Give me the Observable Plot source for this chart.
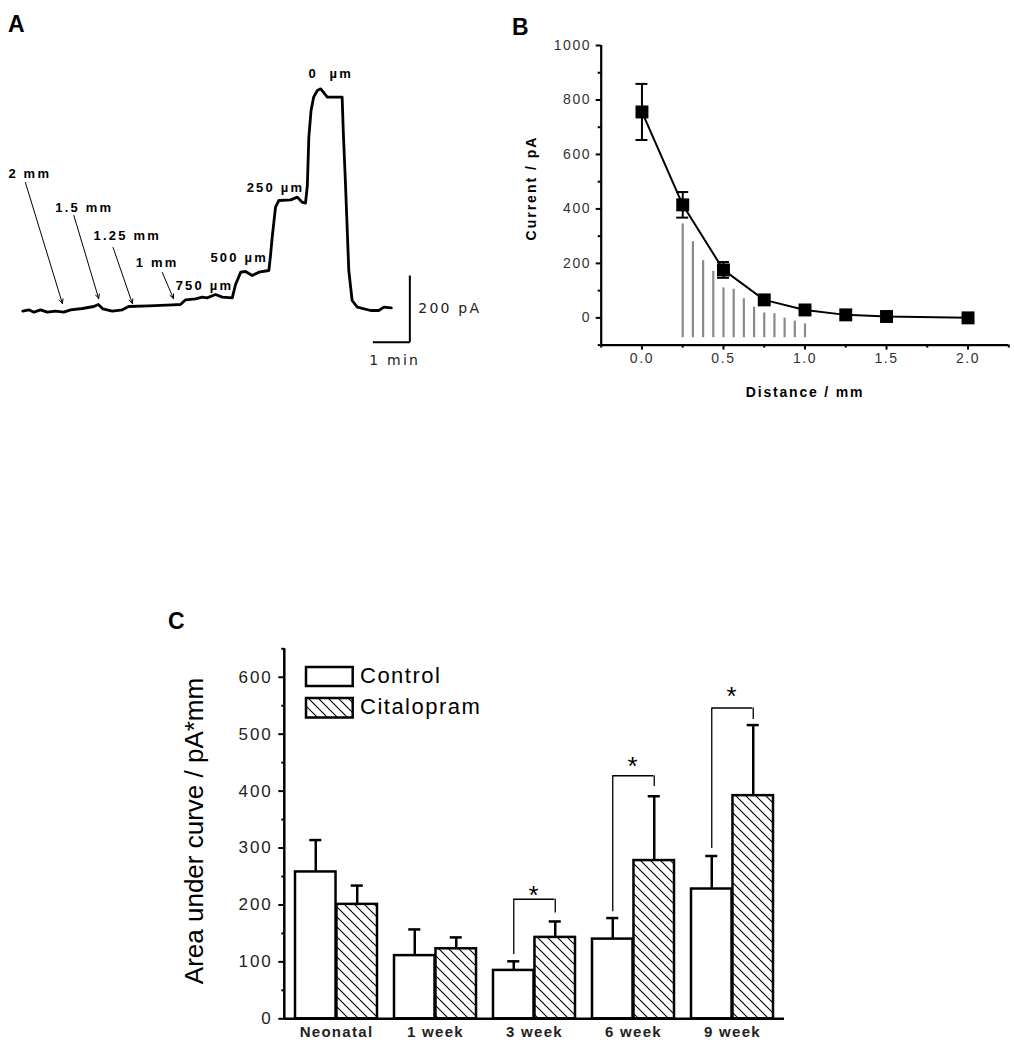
<!DOCTYPE html>
<html><head><meta charset="utf-8">
<script src="https://cdn.jsdelivr.net/npm/d3@7"></script>
<script src="https://cdn.jsdelivr.net/npm/@observablehq/plot@0.6"></script>
<style>
body{margin:0;background:#fff;}
#page{position:relative;width:1014px;height:1050px;overflow:hidden;font-family:Arial,"Liberation Sans",sans-serif;background:#fff;}
.panel{position:absolute;}
</style></head><body><div id="page"></div>
<script>
// ---------------- Panel A: amperometric trace ----------------
const traceTime = [0,0.16,0.30,0.48,0.66,0.88,1.11,1.29,1.61,1.92,2.04,2.16,2.42,2.69,2.86,3.41,4.04,4.26,4.40,4.67,4.85,4.98,5.21,5.39,5.66,5.75,5.89,6.02,6.20,6.38,6.65,6.69,6.74,6.83,6.92,7.24,7.42,7.55,7.64,7.69,7.73,7.79,7.86,7.96,8.05,8.23,8.63,8.66,8.72,8.81,8.90,9.04,9.40,9.62,9.76,9.96];
const traceCurrent = [0,4,-3,4,-3,0,-3,4,8,14,20,7,0,4,14,16,19,20,34,37,42,40,50,42,40,80,117,119,107,117,122,162,222,312,332,334,342,327,324,377,522,602,642,662,667,642,642,542,383,122,32,12,2,2,12,10];
const distLabels = ["2 mm","1.5 mm","1.25 mm","1 mm","750 µm","500 µm","250 µm","0  µm"];
const distLabelTime = [-0.39,0.88,1.91,3.05,4.13,5.07,6.05,7.72];
const distLabelCurrent = [413,311,227,146,77,161,371,713];
const arrowFromTime = [0.07,1.38,2.44,3.77];
const arrowFromCurrent = [386,287,191,116];
const arrowToTime = [1.07,2.05,2.96,4.07];
const arrowToCurrent = [23,38,23,38];
const scaleBarTime = 10.46, scaleBarCurrent = -93, scaleTimeLen = 1, scaleCurrentLen = 200;
const scaleLabels = ["200 pA","1 min"];

// ---------------- Panel B: current vs distance ----------------
const distances = [0,0.25,0.5,0.75,1.0,1.25,1.5,2.0];
const currents = [756,415,176,66,29,11,5,0];
const currentErr = [103,47,29,0,0,0,0,0];
const shadeDist = [0.25,0.3125,0.375,0.4375,0.5,0.5625,0.625,0.6875,0.75,0.8125,0.875,0.9375,1.0];
const shadeCurrent = [345,280,210,171,110,105,70,39,18,15,-1,-12,-22];
const shadeBase = -73;
const xMajorB = [0,0.5,1.0,1.5,2.0];
const xMinorB = [-0.25,0.25,0.75,1.25,1.75,2.25];
const yMajorB = [0,200,400,600,800,1000];
const yMinorB = [-100,100,300,500,700,900];

// ---------------- Panel C: area under curve ----------------
const groupsC = ["Neonatal","1 week","3 week","6 week","9 week"];
const controlMean = [258,111,85,140,228];
const controlErr = [56,46,16,37,58];
const citalopramMean = [201,123,143,278,392];
const citalopramErr = [33,20,28,113,124];
const sigGroups = ["3 week","6 week","9 week"];
const sigTop = [210,427,546];
const sigLeftFoot = [113,188,299];
const sigRightFoot = [186,408,526];
const sigStar = [229,455,578];
const yMajorC = [0,100,200,300,400,500,600];
const yMinorC = [50,150,250,350,450,550,650];
const seriesNames = ["Control","Citalopram"];

const page = document.getElementById("page");
function place(el, left, top){ el.classList.add("panel"); el.style.left = left+"px"; el.style.top = top+"px"; page.appendChild(el); }

// ---- A ----
const trace = traceTime.map((t,i)=>({t, I: traceCurrent[i]}));
const labelsA = distLabels.map((label,i)=>({label, t: distLabelTime[i], I: distLabelCurrent[i]}));
const arrowsA = arrowFromTime.map((t,i)=>({x1:t, y1:arrowFromCurrent[i], x2:arrowToTime[i], y2:arrowToCurrent[i]}));
const scaleBars = [
  {x1: scaleBarTime, y1: scaleBarCurrent, x2: scaleBarTime, y2: scaleBarCurrent + scaleCurrentLen},
  {x1: scaleBarTime - scaleTimeLen, y1: scaleBarCurrent, x2: scaleBarTime, y2: scaleBarCurrent}
];
const plotA = Plot.plot({
  width: 500, height: 380, margin: 0,
  x: {domain: [-0.603, 12.91], axis: null},
  y: {domain: [-208, 932], axis: null},
  style: {background: "transparent", fontFamily: "Arial, 'Liberation Sans', sans-serif", letterSpacing: "2.2px", overflow: "visible"},
  marks: [
    Plot.line(trace, {x: "t", y: "I", stroke: "#000", strokeWidth: 2.8, strokeLinejoin: "round"}),
    Plot.arrow(arrowsA, {x1: "x1", y1: "y1", x2: "x2", y2: "y2", stroke: "#000", strokeWidth: 1, headLength: 7, headAngle: 50}),
    Plot.text(labelsA, {x: "t", y: "I", text: "label", textAnchor: "start", lineAnchor: "middle", fontWeight: "bold", fontSize: 13, fill: "#000"}),
    Plot.link(scaleBars, {x1: "x1", y1: "y1", x2: "x2", y2: "y2", stroke: "#000", strokeWidth: 2}),
    Plot.text([scaleLabels[0]], {x: () => scaleBarTime + 0.23, y: () => scaleBarCurrent + scaleCurrentLen/2, text: d => d, textAnchor: "start", lineAnchor: "middle", fontSize: 14, fontFamily: "'DejaVu Sans', sans-serif", fill: "#222"}),
    Plot.text([scaleLabels[1]], {x: () => scaleBarTime - scaleTimeLen/2 + 0.09, y: () => scaleBarCurrent - 55, text: d => d, textAnchor: "middle", lineAnchor: "middle", fontSize: 14, fontFamily: "'DejaVu Sans', sans-serif", fill: "#222"})
  ]
});
place(plotA, 0, 0);

// ---- B ----
const ptsB = distances.map((d,i)=>({d, v: currents[i], e: currentErr[i]}));
const errB = ptsB.filter(p => p.e > 0);
const shadeRows = shadeDist.map((d,i)=>({d, v: shadeCurrent[i]}));
const plotB = Plot.plot({
  width: 514, height: 410, marginLeft: 100.7, marginRight: 5.7, marginTop: 45, marginBottom: 65.4,
  x: {domain: [-0.25, 2.25], label: null},
  y: {domain: [-100, 1000], label: null},
  style: {background: "transparent", fontFamily: "Arial, 'Liberation Sans', sans-serif", color: "#333", letterSpacing: "1.6px", overflow: "visible"},
  marks: [
    Plot.ruleX(shadeRows, {x: "d", y1: () => shadeBase, y2: "v", stroke: "#8a8a8a", strokeWidth: 2.2}),
    Plot.line(ptsB, {x: "d", y: "v", stroke: "#000", strokeWidth: 2}),
    Plot.ruleX(errB, {x: "d", y1: d => d.v - d.e, y2: d => d.v + d.e, stroke: "#000", strokeWidth: 2}),
    Plot.ruleY(errB, {x1: "d", x2: "d", y: d => d.v + d.e, insetLeft: -6, insetRight: -6, stroke: "#000", strokeWidth: 2}),
    Plot.ruleY(errB, {x1: "d", x2: "d", y: d => d.v - d.e, insetLeft: -6, insetRight: -6, stroke: "#000", strokeWidth: 2}),
    Plot.dot(ptsB, {x: "d", y: "v", symbol: "square", r: 7.3, fill: "#000"}),
    Plot.ruleX([-0.25], {stroke: "#000", strokeWidth: 2.2}),
    Plot.ruleY([-100], {stroke: "#000", strokeWidth: 2.2}),
    Plot.axisX(xMajorB, {tickSize: 5, tickPadding: 3, tickFormat: d3.format(".1f"), fontSize: 14, strokeWidth: 2, stroke: "#000", label: null}),
    Plot.axisX(xMinorB, {tickSize: 3, tickFormat: () => "", strokeWidth: 2, stroke: "#000", label: null}),
    Plot.axisY(yMajorB, {tickSize: 5, tickPadding: 5, tickFormat: d3.format("d"), fontSize: 14, strokeWidth: 2, stroke: "#000", label: null}),
    Plot.axisY(yMinorB, {tickSize: 3, tickFormat: () => "", strokeWidth: 2, stroke: "#000", label: null})
  ]
});
place(plotB, 500, 0);

// ---- C ----
const cW = 650, cH = 420, cML = 134.3, cMR = 16, cMT = 18.3, cMB = 31.7;
const cPadIn = 0.17, cPadOut = 0.085;
const cStep = (cW - cML - cMR) / (groupsC.length - cPadIn + 2*cPadOut);
const cBand = cStep * (1 - cPadIn);
const q = cBand / 4;
const capW = 13;
const ctrlRows = groupsC.map((g,i)=>({g, s: seriesNames[0], v: controlMean[i], e: controlErr[i]}));
const citRows = groupsC.map((g,i)=>({g, s: seriesNames[1], v: citalopramMean[i], e: citalopramErr[i]}));
const brk = sigGroups.map((g,i)=>({g, top: sigTop[i], left: sigLeftFoot[i], right: sigRightFoot[i], star: sigStar[i]}));
const plotC = Plot.plot({
  width: cW, height: cH, marginLeft: cML, marginRight: cMR, marginTop: cMT, marginBottom: cMB,
  x: {domain: groupsC, paddingInner: cPadIn, paddingOuter: cPadOut, label: null},
  y: {domain: [0, 650], label: null},
  style: {background: "transparent", fontFamily: "Arial, 'Liberation Sans', sans-serif", color: "#222", letterSpacing: "2px", overflow: "visible"},
  marks: [
    Plot.barY(ctrlRows, {x: "g", y: "v", insetRight: cBand/2, fill: "#fff", stroke: "#000", strokeWidth: 2.5}),
    Plot.barY(citRows, {x: "g", y: "v", insetLeft: cBand/2, fill: "url(#hatchC)", stroke: "#000", strokeWidth: 2.5}),
    Plot.ruleX(ctrlRows, {x: "g", y1: "v", y2: d => d.v + d.e, dx: -q, stroke: "#000", strokeWidth: 2.5}),
    Plot.tickY(ctrlRows, {x: "g", y: d => d.v + d.e, dx: -q, insetLeft: (cBand-capW)/2, insetRight: (cBand-capW)/2, stroke: "#000", strokeWidth: 2.5}),
    Plot.ruleX(citRows, {x: "g", y1: "v", y2: d => d.v + d.e, dx: q, stroke: "#000", strokeWidth: 2.5}),
    Plot.tickY(citRows, {x: "g", y: d => d.v + d.e, dx: q, insetLeft: (cBand-capW)/2, insetRight: (cBand-capW)/2, stroke: "#000", strokeWidth: 2.5}),
    Plot.ruleX(brk, {x: "g", y1: "left", y2: "top", dx: -q, stroke: "#000", strokeWidth: 1.3}),
    Plot.ruleX(brk, {x: "g", y1: "right", y2: "top", dx: q, stroke: "#000", strokeWidth: 1.3}),
    Plot.tickY(brk, {x: "g", y: "top", insetLeft: q, insetRight: q, stroke: "#000", strokeWidth: 1.3}),
    Plot.text(brk, {x: "g", y: "star", text: () => "*", fontSize: 26, dy: 7, fill: "#000"}),
    Plot.ruleY([0], {stroke: "#000", strokeWidth: 2.5}),
    Plot.axisX({tickSize: 0, tickPadding: 8, fontWeight: "bold", fontSize: 15, label: null}),
    Plot.axisY(yMajorC, {tickSize: 6, tickPadding: 6, fontSize: 17, strokeWidth: 2, stroke: "#000", label: null}),
    Plot.axisY(yMinorC, {tickSize: 3, tickFormat: () => "", strokeWidth: 2, stroke: "#000", label: null})
  ]
});
const hatchDef = `<pattern id="ID" patternUnits="userSpaceOnUse" width="10" height="10"><rect width="10" height="10" fill="#fff"/><path d="M-2,-2 L12,12 M-2,8 L2,12 M8,-2 L12,2" stroke="#000" stroke-width="1.1"/></pattern>`;
d3.select(plotC).insert("defs", ":first-child").html(hatchDef.replace("ID","hatchC"));
{
  const ys = plotC.scale("y");
  d3.select(plotC).append("line").attr("x1", cML).attr("x2", cML)
    .attr("y1", ys.apply(0) + 1.2).attr("y2", ys.apply(650)).attr("stroke", "#000").attr("stroke-width", 2.5);
  d3.select(plotC).selectAll('g[aria-label="x-axis tick label"] text').style("letter-spacing", "1.3px");
}
place(plotC, 150, 630);

// ---- overlay text: panel letters, axis titles, legend ----
const panelLetters = [{t:"A", x:8, y:32}, {t:"B", x:512, y:35}, {t:"C", x:168, y:629}];
const titleB_y = "Current / pA", titleB_x = "Distance / mm", titleC_y = "Area under curve / pA*mm";
let ov = `<svg width="1014" height="1050" style="position:absolute;left:0;top:0;pointer-events:none" font-family="Arial, 'Liberation Sans', sans-serif"><defs>${hatchDef.replace("ID","hatchL")}</defs>`;
for (const p of panelLetters) ov += `<text x="${p.x}" y="${p.y}" font-size="23" font-weight="bold">${p.t}</text>`;
ov += `<text transform="translate(531,188) rotate(-90)" text-anchor="middle" dominant-baseline="central" font-size="14" font-weight="bold" letter-spacing="2">${titleB_y}</text>`;
ov += `<text x="805" y="392" text-anchor="middle" dominant-baseline="central" font-size="14" font-weight="bold" letter-spacing="1.8">${titleB_x}</text>`;
ov += `<text transform="translate(194,831) rotate(-90)" text-anchor="middle" dominant-baseline="central" font-size="26">${titleC_y}</text>`;
ov += `<rect x="306" y="667" width="46.7" height="19" fill="#fff" stroke="#000" stroke-width="2.5"/>`;
ov += `<rect x="306" y="698" width="46.7" height="19.5" fill="url(#hatchL)" stroke="#000" stroke-width="2.5"/>`;
ov += `<text x="360" y="675" dominant-baseline="central" font-size="22" letter-spacing="1.5">${seriesNames[0]}</text>`;
ov += `<text x="360" y="706" dominant-baseline="central" font-size="22" letter-spacing="1.5">${seriesNames[1]}</text>`;
ov += `</svg>`;
page.insertAdjacentHTML("beforeend", ov);
</script></body></html>
